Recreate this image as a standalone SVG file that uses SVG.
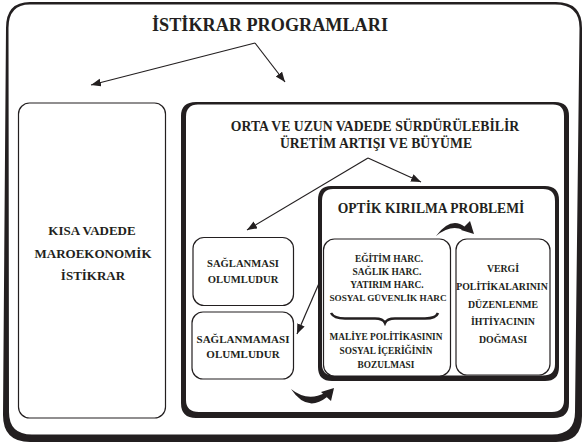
<svg xmlns="http://www.w3.org/2000/svg" width="583" height="444" viewBox="0 0 583 444">
<defs>
<marker id="ah" markerUnits="userSpaceOnUse" markerWidth="11" markerHeight="9" refX="10" refY="4" orient="auto">
<path d="M0,0 L10,4 L0,8 Z" fill="#231f20"/>
</marker>
<style>
.t{font-family:"Liberation Serif","Times New Roman",serif;font-weight:bold;fill:#231f20;text-anchor:middle}
.box{fill:#fff;stroke:#231f20;stroke-width:1.2}
.frame{fill:#231f20;fill-rule:evenodd}
.ln{stroke:#231f20;stroke-width:1.2;fill:none}
.blk{fill:#231f20}
</style>
</defs>
<rect width="583" height="444" fill="#fff"/>

<g id="outer-frame">
<path class="frame" d="M30,2 H556 Q582,2 582,28 V416 Q582,442 556,442 H30 Q3,442 3,415 L6,28 Q6,2 30,2 Z M30,4.5 H555 Q579.5,4.5 579.5,28 L575,412 Q575,434.5 552,434.5 H32 Q9,434.5 9,412 L8.5,28 Q8.5,4.5 30,4.5 Z"/>
<text class="t" x="270" y="31" font-size="18.2">İSTİKRAR PROGRAMLARI</text>
</g>

<g id="kisa-vadede">
<rect class="box" x="18.5" y="103" width="147" height="315" rx="11"/>
<text class="t" x="92" y="235" font-size="13">KISA VADEDE</text>
<text class="t" x="93" y="258" font-size="13">MAROEKONOMİK</text>
<text class="t" x="93" y="280" font-size="13">İSTİKRAR</text>
</g>

<g id="orta-uzun-vade">
<path class="frame" d="M196,102 H555 Q569,102 569,116 V403 Q569,418 554,418 H196 Q181,418 181,403 V116 Q181,102 196,102 Z M198,104.5 H553 Q564,104.5 564,116 V400 Q564,412 552,412 H199 Q186,412 186,400 V117 Q186,104.5 198,104.5 Z"/>
<text class="t" x="375" y="131" font-size="13.7">ORTA VE UZUN VADEDE SÜRDÜRÜLEBİLİR</text>
<text class="t" x="376" y="148" font-size="13.7">ÜRETİM ARTIŞI VE BÜYÜME</text>
</g>

<g id="saglanmasi">
<rect class="box" x="193" y="237.5" width="100.5" height="68" rx="11"/>
<text class="t" x="243" y="267" font-size="10.6">SAĞLANMASI</text>
<text class="t" x="243" y="283" font-size="10.6">OLUMLUDUR</text>
</g>

<g id="saglanmamasi">
<rect class="box" x="192" y="312" width="101.5" height="67" rx="11"/>
<text class="t" x="243" y="343" font-size="11">SAĞLANMAMASI</text>
<text class="t" x="243" y="358" font-size="11">OLUMLUDUR</text>
</g>

<g id="optik-kirilma">
<path class="frame" d="M331,186 H545 Q559,186 559,200 V367 Q559,381 545,381 H332 Q318,381 318,367 V200 Q318,186 331,186 Z M333,189 H543 Q555,189 555,201 V364 Q555,375.5 543,375.5 H334 Q322,375.5 322,364 V201 Q322,189 333,189 Z"/>
<text class="t" x="431" y="213" font-size="13.6">OPTİK KIRILMA PROBLEMİ</text>
</g>

<g id="harcamalar">
<rect class="box" x="323.5" y="239" width="127" height="137" rx="11"/>
<text class="t" x="389" y="262" font-size="9.4">EĞİTİM HARC.</text>
<text class="t" x="387" y="275" font-size="9.4">SAĞLIK HARC.</text>
<text class="t" x="387" y="288" font-size="9.4">YATIRIM HARC.</text>
<text class="t" x="388" y="301" font-size="9.2">SOSYAL GÜVENLİK HARC</text>
<path d="M331,313 Q334,318.5 345,318.5 H375 Q383,318.5 385,323 Q387,318.5 395,318.5 H425 Q436,318.5 438,313" fill="none" stroke="#231f20" stroke-width="2.6"/>
<text class="t" x="386" y="340" font-size="9.3">MALİYE POLİTİKASININ</text>
<text class="t" x="386" y="354" font-size="9.3">SOSYAL İÇERİĞİNİN</text>
<text class="t" x="386" y="368" font-size="9.3">BOZULMASI</text>
</g>

<g id="vergi">
<rect class="box" x="456" y="239" width="94" height="136" rx="11"/>
<text class="t" x="503" y="272" font-size="9.8">VERGİ</text>
<text class="t" x="502" y="290" font-size="9.8">POLİTİKALARININ</text>
<text class="t" x="503" y="308" font-size="9.8">DÜZENLENME</text>
<text class="t" x="503" y="325" font-size="9.8">İHTİYACININ</text>
<text class="t" x="503" y="343" font-size="9.8">DOĞMASI</text>
</g>

<g id="connectors">
<line class="ln" x1="255" y1="43" x2="91" y2="85" marker-end="url(#ah)"/>
<line class="ln" x1="255" y1="43" x2="285" y2="82" marker-end="url(#ah)"/>
<line class="ln" x1="368" y1="158" x2="421" y2="182" marker-end="url(#ah)"/>
<line class="ln" x1="368" y1="158" x2="247" y2="230" marker-end="url(#ah)"/>
<line class="ln" x1="320" y1="281" x2="297" y2="334" marker-end="url(#ah)"/>
<path class="blk" d="M436,236 Q451,216 465,227 L463,230 Q451,224 436,236 Z"/>
<path class="blk" d="M470,221 L461,230 L474,234 Z"/>
<path class="blk" d="M291,389 Q307,413 327,397 L325,393 Q307,402 291,389 Z"/>
<path class="blk" d="M321,392 L331,401 L334,388 Z"/>
</g>
</svg>
